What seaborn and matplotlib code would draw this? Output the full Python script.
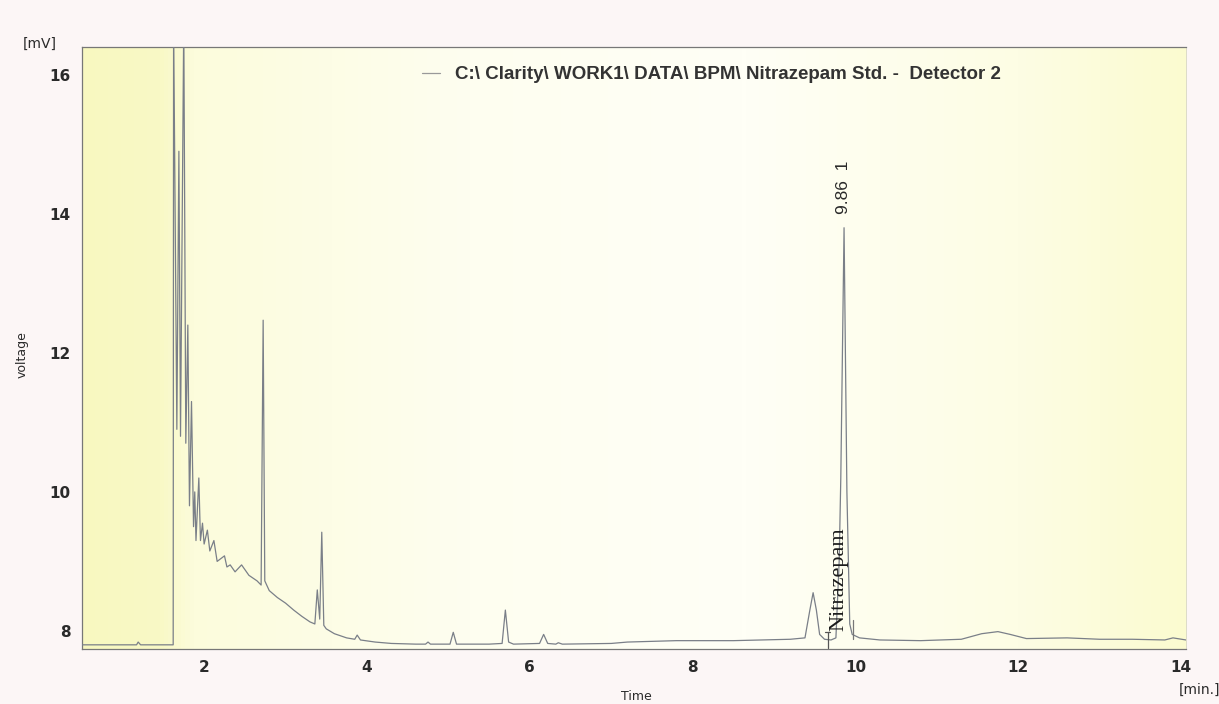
import numpy as np
import pandas as pd
import matplotlib
matplotlib.use("Agg")
import matplotlib.pyplot as plt
from matplotlib.colors import LinearSegmentedColormap
import seaborn as sns

# chromatogram trace, vertices (time in min, signal in mV)
time_min = [0.50, 1.10, 1.17, 1.19, 1.22, 1.62, 1.625, 1.665, 1.69, 1.71, 1.75, 1.775,
            1.80, 1.82, 1.845, 1.87, 1.885, 1.90, 1.935, 1.955, 1.98, 2.00, 2.04, 2.07,
            2.12, 2.16, 2.25, 2.28, 2.32, 2.38, 2.46, 2.55, 2.65, 2.70, 2.725, 2.745,
            2.80, 2.90, 3.00, 3.10, 3.20, 3.30, 3.36, 3.39, 3.42, 3.445, 3.47, 3.50,
            3.60, 3.75, 3.85, 3.88, 3.92, 4.10, 4.30, 4.60, 4.72, 4.75, 4.78, 5.02,
            5.06, 5.10, 5.50, 5.66, 5.70, 5.74, 5.80, 6.12, 6.17, 6.22, 6.32, 6.35,
            6.40, 7.00, 7.20, 7.80, 8.50, 9.20, 9.38, 9.44, 9.48, 9.52, 9.56, 9.62,
            9.70, 9.76, 9.80, 9.82, 9.86, 9.895, 9.93, 9.96, 10.05, 10.30, 10.80, 11.30,
            11.55, 11.75, 11.90, 12.10, 12.60, 13.00, 13.40, 13.80, 13.90, 14.06]
voltage_mv = [7.80, 7.80, 7.80, 7.84, 7.80, 7.80, 16.8, 10.9, 14.9, 10.8, 16.8, 10.7,
              12.4, 9.8, 11.3, 9.5, 10.0, 9.3, 10.2, 9.3, 9.55, 9.25, 9.45, 9.15,
              9.3, 9.0, 9.08, 8.92, 8.95, 8.85, 8.95, 8.8, 8.72, 8.66, 12.47, 8.72,
              8.58, 8.48, 8.40, 8.30, 8.21, 8.13, 8.10, 8.59, 8.17, 9.42, 8.08, 8.03,
              7.96, 7.90, 7.88, 7.94, 7.87, 7.84, 7.82, 7.81, 7.81, 7.84, 7.81, 7.81,
              7.98, 7.81, 7.81, 7.82, 8.30, 7.84, 7.81, 7.82, 7.95, 7.82, 7.81, 7.83,
              7.81, 7.82, 7.84, 7.86, 7.86, 7.88, 7.90, 8.30, 8.55, 8.30, 7.95, 7.88,
              7.87, 7.90, 9.0, 10.2, 13.80, 10.0, 8.1, 7.95, 7.90, 7.87, 7.86, 7.88,
              7.96, 7.99, 7.95, 7.89, 7.90, 7.88, 7.88, 7.87, 7.90, 7.87]

peak_name = "Nitrazepam"
peak_time = 9.86
peak_height = 13.80
peak_number = 1
peak_start = 9.66
peak_end = 9.97

x_ticks = [2, 4, 6, 8, 10, 12, 14]
y_ticks = [8, 10, 12, 14, 16]
title_text = "C:\\ Clarity\\ WORK1\\ DATA\\ BPM\\ Nitrazepam Std. -  Detector 2"

df = pd.DataFrame({"time": time_min, "voltage": voltage_mv})

sns.set_theme(style="white")
plt.rcParams["font.family"] = ["DejaVu Sans"]

W, H = 1219, 704
fig = plt.figure(figsize=(W / 100, H / 100), dpi=100, facecolor="#fcf6f6")
ax = fig.add_axes([82 / W, 1 - 649 / H, (1186 - 82) / W, (649 - 47) / H])

xmin, xmax, ymin, ymax = 0.50, 14.06, 7.74, 16.40

# paper tint of the scan
cmap = LinearSegmentedColormap.from_list(
    "paper", [(0, "#f8f8c0"), (0.07, "#f9f9c6"), (0.10, "#fcfcdc"),
              (0.35, "#fefef0"), (0.6, "#fffff6"), (0.85, "#fdfde4"), (1, "#fbfbd0")])
ax.imshow(np.linspace(0, 1, 256)[None, :], extent=[xmin, xmax, ymin, ymax],
          aspect="auto", cmap=cmap, zorder=0)

sns.lineplot(data=df, x="time", y="voltage", ax=ax, sort=False, estimator=None,
             color="#7a7f88", linewidth=0.9, zorder=3)

# integration boundary marks of the peak
ax.plot([peak_start, peak_start], [7.76, 7.98], color="#555555", lw=0.9, zorder=3)
ax.plot([peak_start - 0.03, peak_start + 0.03], [7.98, 7.98], color="#555555", lw=0.9, zorder=3)
ax.plot([peak_end, peak_end], [7.88, 8.15], color="#777777", lw=0.9, zorder=3)

ax.set_xlim(xmin, xmax)
ax.set_ylim(ymin, ymax)
ax.set_xticks(x_ticks)
ax.set_yticks(y_ticks)
ax.set_xlabel("")
ax.set_ylabel("")
ax.tick_params(axis="both", direction="out", length=5, width=0.8, color="#666666",
               labelsize=11, labelcolor="#2a2a2a", pad=3)
for lab in ax.get_xticklabels() + ax.get_yticklabels():
    lab.set_fontweight("bold")
for side in ["left", "bottom", "top"]:
    ax.spines[side].set_visible(True)
    ax.spines[side].set_color("#777777")
    ax.spines[side].set_linewidth(0.9)
ax.spines["right"].set_color("#d8d8c0")
ax.spines["right"].set_linewidth(0.6)

# title line with its short legend stroke
ax.plot([4.68, 4.90], [16.02, 16.02], color="#999999", lw=0.9, zorder=3)
ax.text(5.08, 16.0, title_text, fontsize=13.5, family="Liberation Sans", fontweight="bold",
        color="#333333", ha="left", va="center", zorder=4)

ax.text(peak_time - 0.01, peak_height + 0.2, f"{peak_time:.2f}  {peak_number}",
        rotation=90, ha="center", va="bottom", fontsize=12.5,
        family="Liberation Sans", color="#2a2a2a", zorder=4)
ax.text(peak_time - 0.065, 8.0, peak_name, rotation=90, ha="center", va="bottom",
        fontsize=16, family="Liberation Serif", color="#1a1a1a", zorder=4)

fig.text(40 / W, 1 - 44 / H, "[mV]", fontsize=10, color="#2a2a2a", ha="center", va="center")
fig.text(22 / W, 1 - 355 / H, "voltage", fontsize=9, color="#2a2a2a", rotation=90,
         ha="center", va="center")
fig.text(636 / W, 1 - 697 / H, "Time", fontsize=9, color="#2a2a2a", ha="center", va="center")
fig.text(1199 / W, 1 - 690 / H, "[min.]", fontsize=10, color="#2a2a2a", ha="center", va="center")

fig.savefig("out.png", dpi=100, facecolor=fig.get_facecolor())
